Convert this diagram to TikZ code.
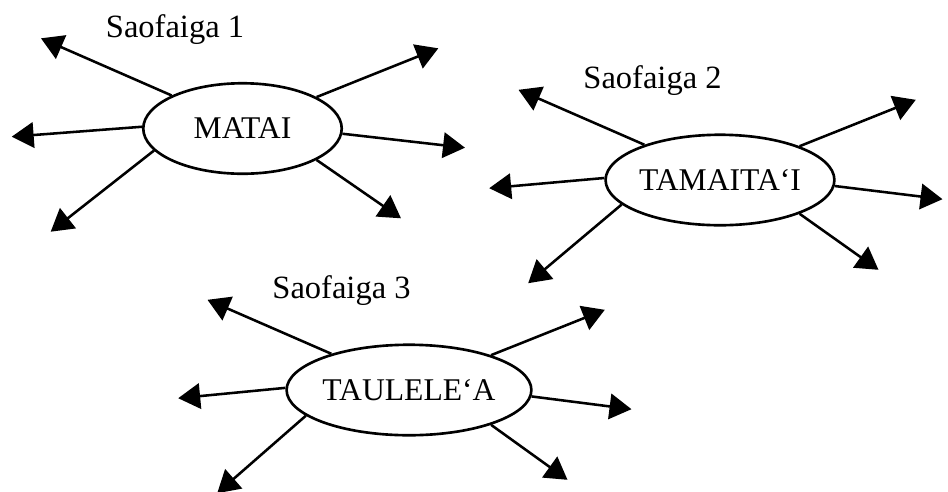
\documentclass[tikz,border=0pt]{standalone}
\usepackage{fontspec}
\setmainfont{Liberation Serif}
\usetikzlibrary{arrows.meta,shapes.geometric}
\tikzset{
  bubble/.style={ellipse, draw=black, line width=1.5pt, inner sep=0pt, minimum width=3.97cm, minimum height=1.81cm, font=\fontsize{18}{20}\selectfont},
  caption/.style={anchor=base, inner sep=0pt, font=\fontsize{18.5}{20}\selectfont},
  ray/.style={-{Triangle[length=12.5pt,width=14.5pt]}, line width=1.45pt, draw=black}
}

\begin{document}
\begin{tikzpicture}[x=0.02cm, y=-0.02cm]
  \useasboundingbox (0,0) rectangle (948,491);

  % Saofaiga 1
  \node[bubble] (matai) at (242.5,128.5) {MATAI};
  \node[caption] (cap1) at (175,37.3) {Saofaiga 1};
  \foreach \ang/\tx/\ty [count=\k] in {155/41/38.3, 179/11.7/136.7, 194/50.7/231.7, 23.6/438.3/48.3, -3/465/147.7, -23.9/401/218.3}{
    \coordinate (matai-\k) at (\tx,\ty);
    \draw[ray] (matai.\ang) -- (matai-\k);
  }

  % Saofaiga 2
  \begin{scope}[shift={(477.5,51.5)}]
    \node[bubble] (tamaitai) at (242.5,128.5) {TAMAITA‘I};
    \node[caption] (cap2) at (175,37.3) {Saofaiga 2};
    \foreach \ang/\tx/\ty [count=\k] in {155/41/38.3, 179/11.7/136.7, 194/50.7/231.7, 23.6/438.3/48.3, -3/465/147.7, -23.9/401/218.3}{
      \coordinate (tamaitai-\k) at (\tx,\ty);
      \draw[ray] (tamaitai.\ang) -- (tamaitai-\k);
    }
  \end{scope}

  % Saofaiga 3
  \begin{scope}[shift={(166.5,261.5)}]
    \node[bubble] (taulelea) at (242.5,128.5) {TAULELE‘A};
    \node[caption] (cap3) at (175,37.3) {Saofaiga 3};
    \foreach \ang/\tx/\ty [count=\k] in {155/41/38.3, 179/11.7/136.7, 194/50.7/231.7, 23.6/438.3/48.3, -3/465/147.7, -23.9/401/218.3}{
      \coordinate (taulelea-\k) at (\tx,\ty);
      \draw[ray] (taulelea.\ang) -- (taulelea-\k);
    }
  \end{scope}
\end{tikzpicture}
\end{document}
